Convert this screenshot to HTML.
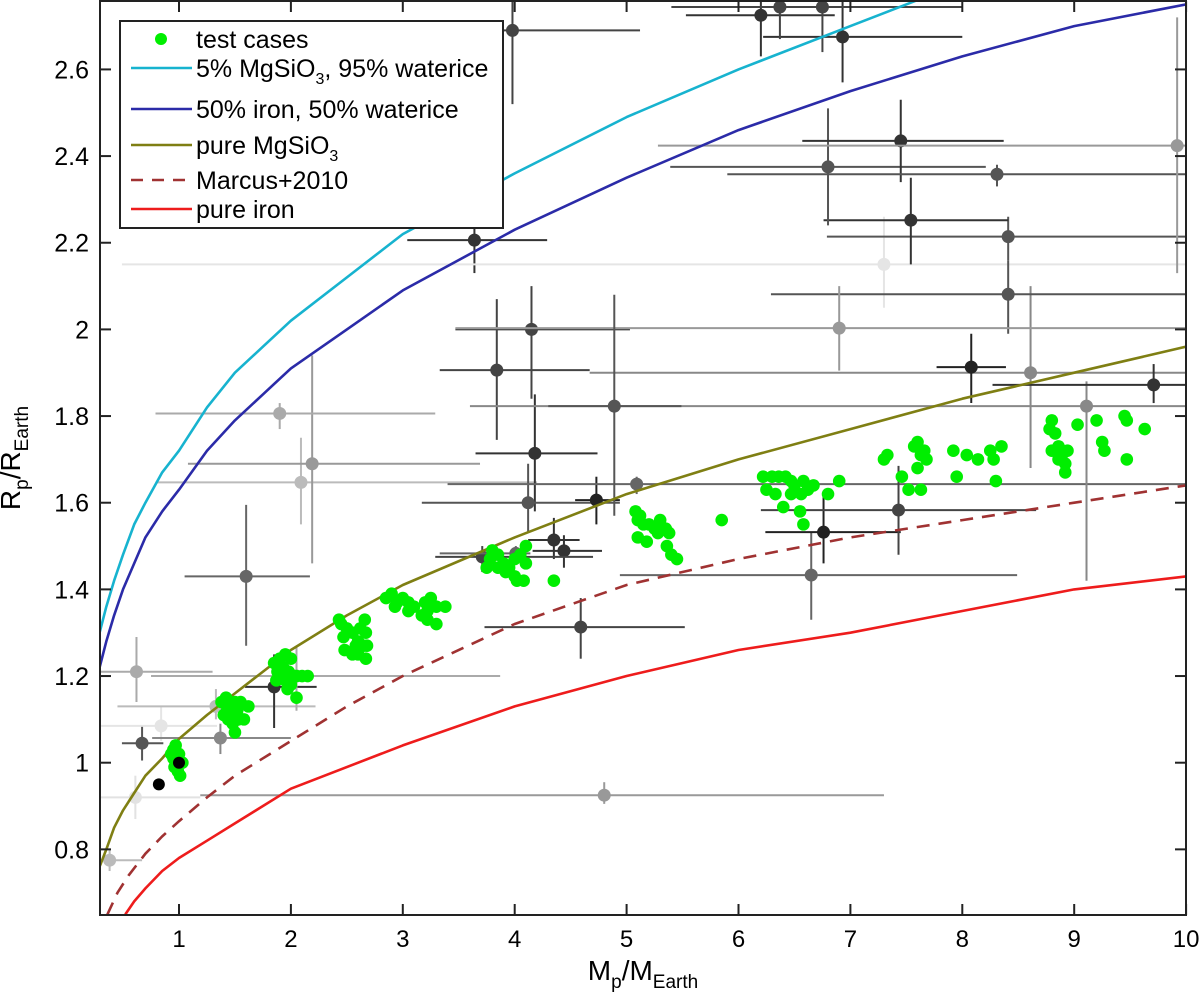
<!DOCTYPE html>
<html><head><meta charset="utf-8"><style>
html,body{margin:0;padding:0;background:#fff;}
svg text{font-family:"Liberation Sans",Arial,sans-serif;fill:#000;}
</style></head><body>
<svg id="chart" width="1200" height="1001" viewBox="0 0 1200 1001" xmlns="http://www.w3.org/2000/svg">
<defs><clipPath id="plotclip"><rect x="100" y="1" width="1086" height="914"/></clipPath></defs>
<g id="plot" clip-path="url(#plotclip)"></g>
<g id="axes"></g>
<g id="legend"></g>
</svg>
<script>
// ---- data ----
const xTicks=[1,2,3,4,5,6,7,8,9,10];
const yTicks=[0.8,1,1.2,1.4,1.6,1.8,2,2.2,2.4,2.6];
const yTickLabels=["0.8","1","1.2","1.4","1.6","1.8","2","2.2","2.4","2.6"];
const cyanX=[0.29,0.35,0.42,0.5,0.6,0.7,0.85,1,1.25,1.5,1.75,2,2.5,3,3.5,4,5,6,7,7.6];
const cyanY=[1.30,1.36,1.42,1.48,1.55,1.60,1.67,1.72,1.82,1.90,1.96,2.02,2.12,2.22,2.29,2.36,2.49,2.60,2.70,2.76];
const blueX=[0.29,0.35,0.42,0.5,0.6,0.7,0.85,1,1.25,1.5,1.75,2,2.5,3,4,5,6,7,8,9,10];
const blueY=[1.22,1.28,1.34,1.40,1.46,1.52,1.58,1.63,1.72,1.79,1.85,1.91,2.00,2.09,2.23,2.35,2.46,2.55,2.63,2.70,2.75];
const oliveX=[0.29,0.35,0.42,0.5,0.6,0.7,0.85,1,1.25,1.5,2,2.5,3,4,5,6,7,8,9,10];
const oliveY=[0.76,0.80,0.85,0.89,0.93,0.97,1.01,1.055,1.11,1.16,1.26,1.34,1.41,1.52,1.62,1.70,1.77,1.84,1.90,1.96];
const marcusX=[0.36,0.45,0.55,0.7,0.85,1,1.25,1.5,2,2.5,3,4,5,6,7,8,9,10];
const marcusY=[0.65,0.70,0.74,0.79,0.83,0.865,0.92,0.97,1.05,1.13,1.20,1.32,1.41,1.47,1.52,1.56,1.60,1.64];
const ironX=[0.52,0.6,0.7,0.85,1,1.25,1.5,2,3,4,5,6,7,8,9,10];
const ironY=[0.65,0.68,0.71,0.75,0.78,0.82,0.86,0.94,1.04,1.13,1.20,1.26,1.30,1.35,1.40,1.43];
// error-bar points
const obsX=[0.38,0.61,0.67,0.84,0.62,1.33,1.37,1.85,2.05,4.8,1.6,2.09,2.19,1.9,3.64,7.3,3.98,4.15,3.84,4.18,4.12,4.73,5.09,4.35,4.44,3.71,4.01,4.59,6.65,6.76,7.43,9.11,8.61,8.08,9.71,8.41,6.9,8.41,7.54,6.8,7.45,8.31,9.92,6.93,6.2,6.37,6.75,4.89];
const obsY=[0.775,0.92,1.045,1.085,1.21,1.13,1.057,1.175,1.2,0.925,1.43,1.647,1.69,1.806,2.206,2.15,2.69,2.0,1.906,1.714,1.60,1.606,1.643,1.514,1.489,1.475,1.483,1.313,1.433,1.532,1.583,1.823,1.90,1.913,1.872,2.081,2.003,2.214,2.252,2.375,2.435,2.358,2.424,2.675,2.725,2.744,2.744,1.823];
const obsXlo=[0.29,0.29,0.49,0.29,0.29,0.45,0.76,1.59,0.75,1.19,1.05,0.79,1.08,0.79,3.04,0.49,3.56,3.47,3.33,3.65,3.17,4.54,3.4,4.12,4.16,3.29,3.33,3.73,4.94,6.24,6.2,3.6,4.67,7.77,8.27,6.29,3.47,6.79,6.76,5.39,6.57,5.9,5.28,6.22,5.53,5.4,6.0,4.3];
const obsXhi=[0.67,1.19,0.86,1.34,1.3,2.22,2.0,2.23,3.87,7.3,2.17,4.2,3.69,3.29,4.29,10.5,5.12,5.03,4.67,4.74,4.94,4.94,10.5,4.58,4.78,4.7,4.14,5.52,8.49,7.45,8.66,10.5,10.5,8.39,10.5,10.5,10.5,10.5,8.41,8.21,8.37,10.5,10.5,8.0,6.86,8.0,7.2,5.49];
const obsYlo=[0.75,0.87,1.005,1.05,1.14,1.10,1.02,1.08,1.12,0.905,1.27,1.55,1.46,1.77,2.13,2.05,2.52,1.84,1.745,1.58,1.53,1.55,1.62,1.47,1.45,1.44,1.46,1.24,1.33,1.46,1.48,1.42,1.68,1.83,1.83,1.99,1.905,2.16,2.15,2.24,2.34,2.33,2.13,2.57,2.63,2.67,2.64,1.57];
const obsYhi=[0.80,0.97,1.085,1.13,1.29,1.17,1.09,1.25,1.27,0.955,1.595,1.75,1.94,1.83,2.27,2.26,2.78,2.1,2.07,1.85,1.69,1.66,1.66,1.565,1.525,1.50,1.50,1.38,1.53,1.62,1.685,1.88,2.10,1.99,1.92,2.16,2.10,2.26,2.35,2.51,2.53,2.38,2.72,2.78,2.78,2.78,2.78,2.08];
const obsGray=["#bbb","#e2e2e2","#555","#e5e5e5","#aaa","#bbb","#888","#333","#aaa","#999","#666","#bbb","#999","#aaa","#333","#e5e5e5","#444","#444","#444","#333","#555","#222","#666","#333","#333","#444","#666","#444","#666","#222","#444","#888","#888","#222","#333","#555","#999","#555","#333","#555","#333","#555","#999","#333","#333","#444","#444","#555"];
const testX=[0.93,0.95,0.97,0.98,1.0,1.02,0.96,0.99,1.01,0.97,1.03,0.95,
1.38,1.42,1.45,1.5,1.55,1.43,1.47,1.52,1.44,1.48,1.53,1.58,1.5,1.62,1.4,
1.85,1.9,1.95,2.0,1.88,1.93,1.98,2.02,1.87,1.95,2.05,2.1,2.15,1.97,2.05,1.92,2.0,
2.43,2.45,2.5,2.55,2.62,2.66,2.67,2.47,2.6,2.65,2.68,2.48,2.55,2.6,2.67,2.58,
2.85,2.9,2.95,3.0,3.05,2.93,3.1,3.2,3.22,3.25,3.3,3.38,3.17,3.22,3.3,3.05,
3.78,3.8,3.85,3.9,3.95,4.0,4.05,4.1,4.1,3.85,3.92,4.0,4.02,4.08,4.35,3.75,
5.08,5.1,5.12,5.15,5.2,5.25,5.3,5.28,5.35,5.38,5.36,5.1,5.18,5.4,5.45,5.85,
6.22,6.3,6.36,6.42,6.47,6.5,6.58,6.67,6.25,6.33,6.47,6.56,6.62,6.8,6.4,6.55,6.58,6.9,
7.3,7.33,7.46,7.52,7.57,7.6,7.63,7.66,7.68,7.6,7.63,7.92,7.95,8.04,8.14,8.28,8.25,8.35,8.3,
8.78,8.8,8.83,8.86,8.8,8.89,8.92,8.94,8.92,8.86,9.03,9.2,9.25,9.27,9.45,9.47,9.63,9.47];
const testY=[1.02,1.03,1.04,1.01,1.02,1.0,0.99,0.98,0.97,1.0,1.0,1.01,
1.14,1.15,1.13,1.14,1.14,1.12,1.11,1.12,1.10,1.09,1.10,1.10,1.07,1.13,1.11,
1.23,1.24,1.25,1.24,1.21,1.22,1.21,1.20,1.19,1.19,1.20,1.20,1.20,1.17,1.15,1.20,1.18,
1.33,1.32,1.31,1.30,1.31,1.33,1.30,1.29,1.28,1.27,1.27,1.26,1.25,1.25,1.24,1.27,
1.38,1.39,1.37,1.38,1.37,1.36,1.36,1.37,1.35,1.38,1.36,1.36,1.34,1.33,1.32,1.35,
1.47,1.49,1.48,1.46,1.45,1.47,1.48,1.50,1.46,1.45,1.44,1.43,1.42,1.42,1.42,1.45,
1.58,1.56,1.57,1.55,1.55,1.54,1.56,1.53,1.54,1.53,1.50,1.52,1.51,1.48,1.47,1.56,
1.66,1.66,1.66,1.66,1.65,1.64,1.65,1.64,1.63,1.62,1.62,1.62,1.63,1.62,1.59,1.58,1.55,1.65,
1.70,1.71,1.66,1.63,1.73,1.74,1.71,1.72,1.70,1.68,1.63,1.72,1.66,1.71,1.70,1.70,1.72,1.73,1.65,
1.77,1.79,1.76,1.73,1.72,1.71,1.69,1.72,1.67,1.70,1.78,1.79,1.74,1.72,1.80,1.79,1.77,1.70];
const blackX=[0.82,1.0];
const blackY=[0.95,1.0];

// ---- axes ----
const X0=100,X1=1186,Y0=915,Y1=1;
function sx(v){return 179+(v-1)*111.9;}
function sy(v){return 762.7-(v-1)*433.3;}
const NS="http://www.w3.org/2000/svg";
function mk(tag,attrs,parent){const e=document.createElementNS(NS,tag);for(const k in attrs)e.setAttribute(k,attrs[k]);parent.appendChild(e);return e;}
const plot=document.getElementById('plot'),axes=document.getElementById('axes'),legend=document.getElementById('legend');

for(let i=0;i<obsX.length;i++){
  const g=mk('g',{},plot);
  
  
  const c=obsGray[i];
  mk('line',{x1:sx(obsXlo[i]),x2:sx(obsXhi[i]),y1:sy(obsY[i]),y2:sy(obsY[i]),stroke:c,'stroke-width':2},g);
  mk('line',{x1:sx(obsX[i]),x2:sx(obsX[i]),y1:sy(obsYlo[i]),y2:sy(obsYhi[i]),stroke:c,'stroke-width':2},g);
  mk('circle',{cx:sx(obsX[i]),cy:sy(obsY[i]),r:6.5,fill:c},g);
}
function curve(xs,ys,color,name,dash){
  const p=xs.map((x,i)=>sx(x).toFixed(1)+','+sy(ys[i]).toFixed(1)).join(' ');
  const el=mk('polyline',{points:p,fill:'none',stroke:color,'stroke-width':2.6,'stroke-linejoin':'round'},plot);
  if(dash)el.setAttribute('stroke-dasharray',dash);
  
  
}
curve(cyanX,cyanY,'#17b3cf','curve-5pct-mgsio3-waterice');
curve(blueX,blueY,'#2b2ba8','curve-50pct-iron-waterice');
curve(oliveX,oliveY,'#7f7f13','curve-pure-mgsio3');
curve(marcusX,marcusY,'#a03232','curve-marcus-2010','13,9');
curve(ironX,ironY,'#ee1c1c','curve-pure-iron');
for(let i=0;i<testX.length;i++){
  const c=mk('circle',{cx:sx(testX[i]),cy:sy(testY[i]),r:6.3,fill:'#00ee00'},plot);
  
  
}
for(let i=0;i<blackX.length;i++){
  const c=mk('circle',{cx:sx(blackX[i]),cy:sy(blackY[i]),r:6,fill:'#000'},plot);
  
  
}
const fr=mk('rect',{x:X0,y:Y1,width:X1-X0,height:Y0-Y1,fill:'none',stroke:'#222','stroke-width':2},axes);


xTicks.forEach(t=>{
  const x=sx(t);
  mk('line',{x1:x,x2:x,y1:Y0,y2:Y0-11,stroke:'#222','stroke-width':2},axes);
  mk('line',{x1:x,x2:x,y1:Y1,y2:Y1+11,stroke:'#222','stroke-width':2},axes);
  const tx=mk('text',{x:x,y:947,'font-size':24,'text-anchor':'middle'},axes);
  tx.textContent=String(t);
  
  
});
yTicks.forEach((t,i)=>{
  const y=sy(t);
  mk('line',{x1:X0,x2:X0+11,y1:y,y2:y,stroke:'#222','stroke-width':2},axes);
  mk('line',{x1:X1,x2:X1-11,y1:y,y2:y,stroke:'#222','stroke-width':2},axes);
  const tx=mk('text',{x:89,y:y+9,'font-size':25,'text-anchor':'end'},axes);
  tx.textContent=yTickLabels[i];
  
  
});
const xt=mk('text',{x:643,y:980,'font-size':28,'text-anchor':'middle'},axes);
xt.innerHTML='M<tspan font-size="19" dy="8">p</tspan><tspan dy="-8">/M</tspan><tspan font-size="19" dy="8">Earth</tspan>';


const yt=mk('text',{x:0,y:0,'font-size':28,'text-anchor':'middle',transform:'translate(20,458) rotate(-90)'},axes);
yt.innerHTML='R<tspan font-size="19" dy="8">p</tspan><tspan dy="-8">/R</tspan><tspan font-size="19" dy="8">Earth</tspan>';


const lb=mk('rect',{x:120,y:21,width:383,height:207,fill:'#fff',stroke:'#222','stroke-width':2},legend);


const ent=[
 {t:'test cases',y:39,dot:true},
 {t:'5% MgSiO<tspan font-size="16" dy="7">3</tspan><tspan dy="-7">, 95% waterice</tspan>',y:68,c:'#17b3cf'},
 {t:'50% iron, 50% waterice',y:109,c:'#2b2ba8'},
 {t:'pure MgSiO<tspan font-size="16" dy="7">3</tspan>',y:145,c:'#7f7f13'},
 {t:'Marcus+2010',y:180,c:'#a03232',dash:'12,9'},
 {t:'pure iron',y:209,c:'#ee1c1c'}];
ent.forEach(e=>{
  const g=mk('g',{},legend);
  
  
  if(e.dot) mk('circle',{cx:161,cy:e.y,r:6,fill:'#00ee00'},g);
  else { const l=mk('line',{x1:131,x2:192,y1:e.y,y2:e.y,stroke:e.c,'stroke-width':2.6},g); if(e.dash)l.setAttribute('stroke-dasharray',e.dash);}
  const tx=mk('text',{x:196,y:e.y+9,'font-size':25},g);
  tx.innerHTML=e.t;
});
</script>
</body></html>
